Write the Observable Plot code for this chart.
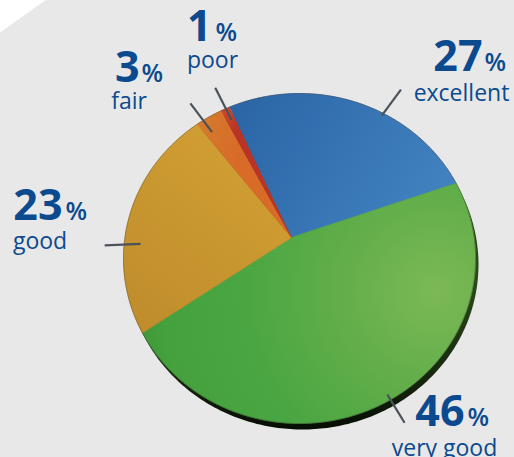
<!DOCTYPE html>
<html><head><meta charset="utf-8">
<script src="https://cdn.jsdelivr.net/npm/d3@7"></script>
<script src="https://cdn.jsdelivr.net/npm/@observablehq/plot@0.6"></script>
<style>
html,body{margin:0;padding:0;}
body{width:514px;height:457px;overflow:hidden;background:linear-gradient(144.6deg,#ffffff 0 26px,#e8e8e8 27px);}
svg{display:block;}
</style></head><body><div id="chart"></div>
<script>
// ---- data ----
const categories = ["excellent", "very good", "good", "fair", "poor"];
const values = [27, 46, 23, 3, 1];
const unit = "%";

// ---- layout (not data) ----
const W = 514, H = 457;
const vertex = [291, 237];
const face = {cx: 299, cy: 258, rx: 176, ry: 165};
const rim = {dx: 3, dy: 6};
const startDeg = -25.4;
const gradIds = ["gExc", "gVG", "gGood", "gFair", "gPoor"];
const labelLayout = [
  {numX: 482, pctX: 484, numY: 70, catX: 461, catY: 100, ang: 36.5, r0: 152, r1: 184},
  {numX: 464, pctX: 467, numY: 425, catX: 444, catY: 455, ang: 148.6, r0: 184, r1: 217},
  {numX: 62, pctX: 65, numY: 219, catX: 39.5, catY: 248, ang: 267.6, r0: 151, r1: 187},
  {numX: 139, pctX: 141, numY: 81, catX: 128.5, catY: 108, ang: 323, r0: 132, r1: 168},
  {numX: 211, pctX: 215, numY: 40, catX: 212, catY: 67, ang: 333, r0: 132, r1: 168}
];
const navy = "#0b4a8e";
const font = "'Open Sans', 'Noto Sans', sans-serif";

// ray from vertex to face ellipse boundary
function boundary(a) {
  const dx = Math.sin(a), dy = -Math.cos(a);
  const px = vertex[0] - face.cx, py = vertex[1] - face.cy;
  const A = (dx*dx)/(face.rx*face.rx) + (dy*dy)/(face.ry*face.ry);
  const B = 2*((px*dx)/(face.rx*face.rx) + (py*dy)/(face.ry*face.ry));
  const C = (px*px)/(face.rx*face.rx) + (py*py)/(face.ry*face.ry) - 1;
  const t = (-B + Math.sqrt(B*B - 4*A*C)) / (2*A);
  return [vertex[0] + t*dx, vertex[1] + t*dy];
}

const arcs = d3.pie().sort(null).startAngle(startDeg*Math.PI/180).endAngle(startDeg*Math.PI/180 + 2*Math.PI)(values);
const slicePts = [];
arcs.forEach((a, i) => {
  slicePts.push({cat: categories[i], x: vertex[0], y: vertex[1]});
  const n = Math.max(4, Math.ceil((a.endAngle - a.startAngle) / (Math.PI/360)));
  for (let k = 0; k <= n; k++) {
    const ang = a.startAngle + (a.endAngle - a.startAngle) * k / n;
    const [x, y] = boundary(ang);
    slicePts.push({cat: categories[i], x, y});
  }
});
// rim (thickness) ellipse
const rimPts = d3.range(0, 361, 1).map(d => {
  const t = d * Math.PI / 180;
  return {x: face.cx + rim.dx + face.rx*Math.cos(t), y: face.cy + rim.dy + face.ry*Math.sin(t)};
});
const edgePts = d3.range(0, 361, 1).map(d => {
  const t = d * Math.PI / 180;
  return {x: face.cx + face.rx*Math.cos(t), y: face.cy + face.ry*Math.sin(t)};
});

const rows = categories.map((c, i) => ({cat: c, value: values[i], ...labelLayout[i]}));
const leaders = rows.map(r => {
  const a = r.ang * Math.PI/180, dx = Math.sin(a), dy = -Math.cos(a);
  return {x1: vertex[0] + r.r0*dx, y1: vertex[1] + r.r0*dy, x2: vertex[0] + r.r1*dx, y2: vertex[1] + r.r1*dy};
});

const svg = Plot.plot({
  width: W, height: H, margin: 0,
  style: {background: "transparent", overflow: "visible"},
  x: {domain: [0, W], range: [0, W], axis: null},
  y: {domain: [0, H], range: [0, H], axis: null},
  color: {domain: categories, range: gradIds.map(id => `url(#${id})`)},
  marks: [
    Plot.line(rimPts, {x: "x", y: "y", fill: "url(#gRim)", stroke: "none"}),
    Plot.line(slicePts, {x: "x", y: "y", z: "cat", fill: "cat", stroke: "cat", strokeWidth: 0.8}),
    Plot.line(edgePts, {x: "x", y: "y", fill: "none", stroke: "#3a3a2a", strokeOpacity: 0.35, strokeWidth: 1}),
    Plot.link(leaders, {x1: "x1", y1: "y1", x2: "x2", y2: "y2", stroke: "#4b5259", strokeWidth: 2.2}),
    Plot.text(rows, {x: "numX", y: "numY", text: d => String(d.value), textAnchor: "end", lineAnchor: "bottom",
      fontSize: 43, fontWeight: 700, fill: navy, fontFamily: font}),
    Plot.text(rows, {x: "pctX", y: "numY", text: () => unit, textAnchor: "start", lineAnchor: "bottom",
      fontSize: 25, fontWeight: 600, fill: navy, fontFamily: font}),
    Plot.text(rows, {x: "catX", y: "catY", text: "cat", textAnchor: "middle", lineAnchor: "bottom",
      fontSize: 23, fontWeight: 400, fill: navy, fontFamily: font})
  ]
});

const defs = d3.select(svg).insert("defs", ":first-child");
function lin(id, x1, y1, x2, y2, stops) {
  const g = defs.append("linearGradient").attr("id", id).attr("gradientUnits", "userSpaceOnUse")
    .attr("x1", x1).attr("y1", y1).attr("x2", x2).attr("y2", y2);
  stops.forEach(([o, c]) => g.append("stop").attr("offset", o).attr("stop-color", c));
}
function rad(id, cx, cy, r, stops) {
  const g = defs.append("radialGradient").attr("id", id).attr("gradientUnits", "userSpaceOnUse")
    .attr("cx", cx).attr("cy", cy).attr("r", r);
  stops.forEach(([o, c]) => g.append("stop").attr("offset", o).attr("stop-color", c));
}
lin("gExc", 240, 110, 460, 240, [[0, "#2c66a7"], [1, "#4587c5"]]);
rad("gVG", 435, 290, 320, [[0, "#7cb955"], [0.3, "#62ae4a"], [0.6, "#4aa642"], [0.85, "#45a13e"], [1, "#3b9236"]]);
lin("gGood", 260, 160, 140, 320, [[0, "#d09e33"], [0.5, "#c8962f"], [1, "#c08d2d"]]);
lin("gFair", 200, 130, 240, 140, [[0, "#d47a2c"], [1, "#d96b29"]]);
lin("gPoor", 225, 115, 240, 125, [[0, "#c8452b"], [1, "#b73427"]]);
lin("gRim", 0, 280, 0, 434, [[0, "#2a4a1a"], [0.6, "#17290e"], [1, "#050a03"]]);

document.getElementById("chart").appendChild(svg);
</script>
</body></html>
